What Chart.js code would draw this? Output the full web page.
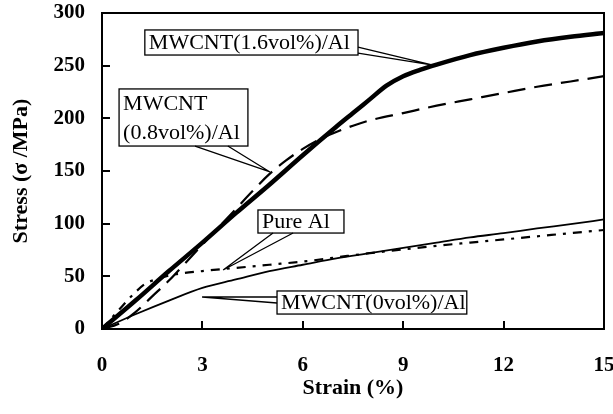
<!DOCTYPE html>
<html>
<head>
<meta charset="utf-8">
<script src="https://cdn.jsdelivr.net/npm/chart.js@4.4.1/dist/chart.umd.min.js"></script>
<style>
  html, body { margin: 0; padding: 0; background: #fff; }
  #wrap { position: relative; width: 613px; height: 414px; }
</style>
</head>
<body>
<div id="wrap"><canvas id="c"></canvas></div>
<script>
// strain (%) / stress (MPa)
const strain16 = [0, 1, 2, 3, 4, 5, 6, 7, 7.5, 8, 8.5, 9, 9.5, 10, 11, 12, 13, 14, 15];
const stress16 = [0, 27, 55, 82, 110, 137, 165, 192, 205, 218, 231, 240, 246, 251, 260, 267, 273, 277.5, 281];

const strain08 = [0, 0.5, 1, 1.5, 2, 2.5, 3, 3.5, 4, 4.5, 5, 5.5, 6, 6.5, 7, 7.5, 8, 9, 10, 11, 12, 13, 14, 15];
const stress08 = [0, 5, 16, 31, 46, 63, 80, 97, 114, 131, 147, 160, 171, 180, 187, 193, 198, 205, 212, 218, 224, 230, 235, 240];

const strainPure = [0, 0.5, 1, 1.3, 1.7, 2.2, 3, 4, 5, 6, 7, 8, 9, 10, 11, 12, 13, 14, 15];
const stressPure = [0, 18, 35, 43, 48, 52, 55, 58, 61, 64, 68, 72, 75.5, 79, 82, 85, 88, 91, 94];

const strain0 = [0, 1, 2, 3, 4, 5, 6, 7, 8, 9, 10, 11, 12, 13, 14, 15];
const stress0 = [0, 14, 27, 39, 47, 55, 61, 67, 72, 77, 82, 87, 91, 95.5, 99.5, 104];

const xTicks = [0, 3, 6, 9, 12, 15];
const yTicks = [0, 50, 100, 150, 200, 250, 300];

// callout boxes, anchored in data units
const callouts = [
  { lines: ['MWCNT(1.6vol%)/Al'], box: [1.28, 283.9, 7.65, 260.1],
    base: [[7.65, 267.7], [7.65, 262.0]], tip: [9.89, 250.6] },
  { lines: ['MWCNT', '(0.8vol%)/Al'], box: [0.51, 227.9, 4.36, 173.7],
    base: [[2.78, 173.7], [3.76, 173.7]], tip: [5.02, 149.1] },
  { lines: ['Pure Al'], box: [4.66, 113.0, 7.23, 91.1],
    base: [[5.11, 91.1], [5.71, 91.1]], tip: [3.62, 56.0] },
  { lines: ['MWCNT(0vol%)/Al'], box: [5.23, 36.1, 10.9, 14.2],
    base: [[5.23, 30.4], [5.23, 24.7]], tip: [2.99, 30.4] }
];

function pts(xs, ys) {
  return xs.map((x, i) => ({ x: x, y: ys[i] }));
}

const serif = "'Liberation Serif', 'Times New Roman', serif";

// no extra room for overhanging tick labels
function noPad(s) {
  s.paddingTop = 0; s.paddingBottom = 0; s.paddingLeft = 0; s.paddingRight = 0;
}

const calloutPlugin = {
  id: 'callouts',
  afterDatasetsDraw(chart) {
    const ctx = chart.ctx;
    const xs = chart.scales.x, ys = chart.scales.y;
    ctx.save();
    ctx.setLineDash([]);
    ctx.font = '22px ' + serif;
    ctx.textBaseline = 'middle';
    ctx.textAlign = 'left';
    ctx.strokeStyle = '#000';
    ctx.lineWidth = 1.3;
    callouts.forEach(c => {
      const x1 = xs.getPixelForValue(c.box[0]), y1 = ys.getPixelForValue(c.box[1]);
      const x2 = xs.getPixelForValue(c.box[2]), y2 = ys.getPixelForValue(c.box[3]);
      ctx.fillStyle = '#fff';
      ctx.fillRect(x1, y1, x2 - x1, y2 - y1);
      ctx.strokeRect(x1, y1, x2 - x1, y2 - y1);
      const tx = xs.getPixelForValue(c.tip[0]), ty = ys.getPixelForValue(c.tip[1]);
      ctx.beginPath();
      c.base.forEach(b => {
        ctx.moveTo(xs.getPixelForValue(b[0]), ys.getPixelForValue(b[1]));
        ctx.lineTo(tx, ty);
      });
      ctx.stroke();
      ctx.fillStyle = '#000';
      const lh = (y2 - y1) / c.lines.length;
      c.lines.forEach((t, i) => {
        ctx.fillText(t, x1 + 4, y1 + lh * (i + 0.5) + 1);
      });
    });

    // inward ticks on the bottom and left edges
    const a = chart.chartArea;
    ctx.fillStyle = '#000';
    xTicks.forEach(v => {
      const px = Math.round(xs.getPixelForValue(v));
      ctx.fillRect(px - 1, a.bottom - 8, 2, 8);
    });
    yTicks.forEach(v => {
      const py = Math.round(ys.getPixelForValue(v));
      ctx.fillRect(a.left, py - 1, 8, 2);
    });
    ctx.restore();
  }
};

const edge = { display: true, color: '#000', width: 2 };
const fontTick = { family: serif, size: 21, weight: 'bold' };
const fontTitle = { family: serif, size: 22, weight: 'bold' };

new Chart(document.getElementById('c'), {
  type: 'scatter',
  data: {
    datasets: [
      { label: 'MWCNT(1.6vol%)/Al', data: pts(strain16, stress16), showLine: true,
        borderColor: '#000', borderWidth: 4.5, pointRadius: 0, cubicInterpolationMode: 'monotone' },
      { label: 'MWCNT(0.8vol%)/Al', data: pts(strain08, stress08), showLine: true,
        borderColor: '#000', borderWidth: 2.2, borderDash: [18, 9], pointRadius: 0, cubicInterpolationMode: 'monotone' },
      { label: 'Pure Al', data: pts(strainPure, stressPure), showLine: true,
        borderColor: '#000', borderWidth: 2.2, borderDash: [9, 7, 3, 7], pointRadius: 0, cubicInterpolationMode: 'monotone' },
      { label: 'MWCNT(0vol%)/Al', data: pts(strain0, stress0), showLine: true,
        borderColor: '#000', borderWidth: 1.8, pointRadius: 0, cubicInterpolationMode: 'monotone' }
    ]
  },
  options: {
    responsive: true,
    maintainAspectRatio: false,
    animation: false,
    layout: { padding: { top: 13, right: 9, left: 0, bottom: 0 } },
    plugins: { legend: { display: false }, tooltip: { enabled: false } },
    scales: {
      x: {
        type: 'linear', min: 0, max: 15,
        afterBuildTicks: s => { s.ticks = xTicks.map(v => ({ value: v })); },
        afterFit: s => { s.height = 85; noPad(s); },
        grid: { display: false, drawTicks: false },
        border: edge,
        ticks: { color: '#000', padding: 24, font: fontTick },
        title: { display: true, text: 'Strain (%)', color: '#000', padding: { top: 0, bottom: 12 }, font: fontTitle }
      },
      y: {
        type: 'linear', min: 0, max: 300,
        afterBuildTicks: s => { s.ticks = yTicks.map(v => ({ value: v })); },
        afterFit: s => { s.width = 102; noPad(s); },
        grid: { display: false, drawTicks: false },
        border: edge,
        ticks: { color: '#000', padding: 17, font: fontTick },
        title: { display: true, text: 'Stress (σ /MPa)', color: '#000', padding: { top: 8, bottom: 0 }, font: fontTitle }
      },
      xTop: {
        type: 'linear', position: 'top', min: 0, max: 15,
        afterFit: s => { s.height = 0; noPad(s); },
        grid: { display: false, drawTicks: false },
        border: edge,
        ticks: { display: false }
      },
      yRight: {
        type: 'linear', position: 'right', min: 0, max: 300,
        afterFit: s => { s.width = 0; noPad(s); },
        grid: { display: false, drawTicks: false },
        border: edge,
        ticks: { display: false }
      }
    }
  },
  plugins: [calloutPlugin]
});
</script>
</body>
</html>
